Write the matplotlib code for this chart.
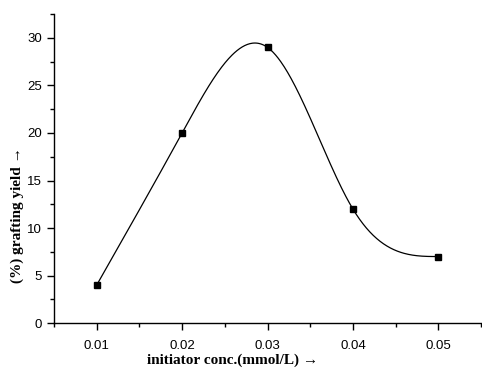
import numpy as np
import matplotlib.pyplot as plt
from matplotlib.ticker import MultipleLocator

conc = [0.01, 0.02, 0.03, 0.04, 0.05]
grafting_yield = [4, 20, 29, 12, 7]


def natural_spline(x, y, xs):
    x = np.asarray(x, float)
    y = np.asarray(y, float)
    n = len(x)
    h = np.diff(x)
    A = np.zeros((n, n))
    b = np.zeros(n)
    A[0, 0] = A[-1, -1] = 1
    for i in range(1, n - 1):
        A[i, i - 1] = h[i - 1]
        A[i, i] = 2 * (h[i - 1] + h[i])
        A[i, i + 1] = h[i]
        b[i] = 3 * ((y[i + 1] - y[i]) / h[i] - (y[i] - y[i - 1]) / h[i - 1])
    c = np.linalg.solve(A, b)
    out = np.empty_like(xs)
    for k, xv in enumerate(xs):
        i = min(np.searchsorted(x, xv) - 1, n - 2)
        i = max(i, 0)
        dx = xv - x[i]
        bi = (y[i + 1] - y[i]) / h[i] - h[i] * (2 * c[i] + c[i + 1]) / 3
        di = (c[i + 1] - c[i]) / (3 * h[i])
        out[k] = y[i] + bi * dx + c[i] * dx ** 2 + di * dx ** 3
    return out


xs = np.linspace(conc[0], conc[-1], 400)
ys = natural_spline(conc, grafting_yield, xs)

fig = plt.figure(figsize=(4.82, 3.71), dpi=100)
ax = fig.add_axes([0.112, 0.129, 0.886, 0.833])
ax.plot(xs, ys, color='black', lw=0.9)
ax.plot(conc, grafting_yield, 's', color='black', ms=5)

ax.set_xlim(0.005, 0.055)
ax.set_ylim(0, 32.5)
ax.set_xticks(conc)
ax.set_xticklabels(['0.01', '0.02', '0.03', '0.04', '0.05'])
ax.xaxis.set_minor_locator(MultipleLocator(0.005))
ax.yaxis.set_major_locator(MultipleLocator(5))
ax.yaxis.set_minor_locator(MultipleLocator(2.5))
ax.spines['top'].set_visible(False)
ax.spines['right'].set_visible(False)
for s in ('left', 'bottom'):
    ax.spines[s].set_linewidth(1.0)
ax.tick_params(which='major', direction='out', length=5, width=1, labelsize=9.5)
ax.tick_params(axis='x', which='major', pad=7)
ax.tick_params(which='minor', direction='out', length=3, width=1)
for lab in ax.get_xticklabels() + ax.get_yticklabels():
    lab.set_family('Liberation Sans')

ax.set_xlabel('initiator conc.(mmol/L) \u2192', family=['Liberation Serif', 'DejaVu Serif'],
              fontweight='bold', fontsize=11)
ax.set_ylabel('(%) grafting yield \u2192', family=['Liberation Serif', 'DejaVu Serif'],
              fontweight='bold', fontsize=11)
ax.xaxis.set_label_coords(0.418, -0.098)
ax.yaxis.set_label_coords(-0.07, 0.35)

fig.savefig('out.png', dpi=100)
